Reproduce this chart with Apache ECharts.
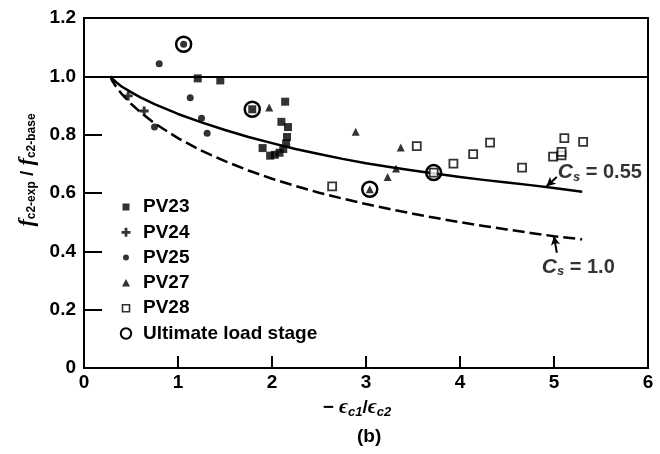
<!DOCTYPE html>
<html lang="en">
<head>
  <meta charset="UTF-8">
  <title>Softening coefficient</title>
  <style>
    * {
      padding: 0px;
      margin: 0px;
    }
    html,body {
      width: 100%;
      height: 100%;
      background-color: #fff;
    }
    #chart {
      width: 660px;
      height: 454px;
    }
  </style>
  <script src="https://cdn.jsdelivr.net/npm/echarts@6/dist/echarts.min.js"></script>
</head>
<body>
  <div id="chart"></div>

  <script>
    // tick labels
    var xTicks = ['0', '1', '2', '3', '4', '5', '6'];
    var yTicks = ['0', '0.2', '0.4', '0.6', '0.8', '1.0', '1.2'];

    // measured points  [-ec1/ec2, fc2exp/fc2base]
    var pv23 = [[1.21, 0.993], [1.45, 0.986], [2.14, 0.913], [2.10, 0.844], [2.17, 0.826],
                [2.16, 0.792], [2.15, 0.770], [2.12, 0.751], [2.08, 0.738], [2.03, 0.731],
                [1.98, 0.728], [1.90, 0.754], [1.79, 0.887]];
    var pv24 = [[0.47, 0.933], [0.64, 0.881]];
    var pv25 = [[0.80, 1.043], [0.75, 0.826], [1.13, 0.927], [1.25, 0.856], [1.31, 0.805], [1.06, 1.110]];
    var pv27 = [[1.97, 0.893], [2.89, 0.810], [3.37, 0.756], [3.32, 0.684], [3.23, 0.655], [3.04, 0.613]];
    var pv28 = [[2.64, 0.623], [3.54, 0.761], [3.72, 0.670], [3.93, 0.701], [4.14, 0.733], [4.32, 0.773],
                [4.66, 0.687], [4.99, 0.725], [5.08, 0.729], [5.08, 0.741], [5.11, 0.788], [5.31, 0.775]];
    var ultimate = [[1.06, 1.110], [1.79, 0.887], [3.04, 0.613], [3.72, 0.670]];

    // curves
    var curveX = [0.28, 0.30, 0.35, 0.40, 0.50, 0.60, 0.75, 1.00, 1.25, 1.50, 1.75, 2.00, 2.25,
                  2.50, 2.75, 3.00, 3.25, 3.50, 3.75, 4.00, 4.25, 4.50, 4.75, 5.00, 5.30];
    var cs055 = [1.000, 0.992, 0.978, 0.965, 0.946, 0.928, 0.905, 0.871, 0.842, 0.816, 0.792, 0.771, 0.751,
                 0.734, 0.717, 0.702, 0.689, 0.677, 0.666, 0.655, 0.645, 0.636, 0.627, 0.617, 0.604];
    var cs100 = [1.000, 0.985, 0.960, 0.940, 0.906, 0.877, 0.839, 0.788, 0.745, 0.709, 0.677, 0.649, 0.624,
                 0.601, 0.581, 0.562, 0.545, 0.529, 0.514, 0.500, 0.487, 0.475, 0.463, 0.452, 0.441];
    var refY = 1.0;

    // curve labels and their arrows
    var curveLabels = [[5.04, 0.670, '0.55'], [4.87, 0.345, '1.0']];
    var arrow055 = [[5.03, 0.655], [4.92, 0.623]];
    var arrow100 = [[5.03, 0.395], [5.00, 0.452]];

    var FONT = '"Liberation Sans", Arial, Helvetica, sans-serif';
    var PLUS = 'path://M3.4,0H6.6V3.4H10V6.6H6.6V10H3.4V6.6H0V3.4H3.4Z';

    function zip(xs, ys) {
      return xs.map(function(x, i) { return [x, ys[i]]; });
    }

    var chart = echarts.init(document.getElementById('chart'));

    var subRich = {
      f: { fontFamily: '"Liberation Serif", serif', fontStyle: 'italic', fontWeight: 'bold', fontSize: 22, lineHeight: 24, color: '#000' },
      sub: { fontFamily: FONT, fontWeight: 'bold', fontSize: 12, lineHeight: 14, padding: [9, 0, 0, 0], color: '#000' },
      t: { fontFamily: FONT, fontWeight: 'bold', fontSize: 19, lineHeight: 24, color: '#000' },
      e: { fontFamily: '"Liberation Serif", serif', fontStyle: 'italic', fontWeight: 'bold', fontSize: 21, lineHeight: 24, color: '#000' },
      isub: { fontFamily: FONT, fontStyle: 'italic', fontWeight: 'bold', fontSize: 13, lineHeight: 14, padding: [9, 0, 0, 0], color: '#000' },
      c: { fontFamily: FONT, fontStyle: 'italic', fontWeight: 'bold', fontSize: 21, lineHeight: 24, color: '#000' },
      v: { fontFamily: FONT, fontWeight: 'bold', fontSize: 20, lineHeight: 24, color: '#000' }
    };

    var blackPt = { color: '#000' };

    var option = {
      animation: false,
      backgroundColor: '#fff',
      title: {
        text: '(b)',
        left: 357,
        top: 427,
        padding: 0,
        textStyle: { fontFamily: FONT, fontWeight: 'bold', fontSize: 19, color: '#000' }
      },
      grid: {
        left: 84,
        right: 12,
        top: 18,
        bottom: 86,
        show: true,
        borderColor: '#000',
        borderWidth: 2
      },
      legend: {
        orient: 'vertical',
        left: 119,
        top: 197,
        padding: 0,
        itemWidth: 12,
        itemHeight: 12,
        itemGap: 5.3,
        selectedMode: false,
        textStyle: { fontFamily: FONT, fontWeight: 'bold', fontSize: 19, lineHeight: 20, color: '#000', padding: [0, 0, 0, 6] },
        data: [
          { name: 'PV23', icon: 'path://M0,0M12,12M2.5,2.5H9.5V9.5H2.5Z', itemStyle: { color: '#000', borderWidth: 0 } },
          { name: 'PV24', icon: 'path://M0,0M12,12M4.6,1.5H7.4V4.6H10.5V7.4H7.4V10.5H4.6V7.4H1.5V4.6H4.6Z', itemStyle: { color: '#000', borderWidth: 0 } },
          { name: 'PV25', icon: 'path://M0,0M12,12M6,3A3,3,0,1,1,5.99,3Z', itemStyle: { color: '#000', borderWidth: 0 } },
          { name: 'PV27', icon: 'path://M0,0M12,12M6,2L10,9.5H2Z', itemStyle: { color: '#000', borderWidth: 0 } },
          { name: 'PV28', icon: 'path://M0,0M12,12M2.5,2.5H9.5V9.5H2.5Z', itemStyle: { color: '#fff', borderColor: '#000', borderWidth: 1.6 } },
          { name: 'Ultimate load stage', icon: 'path://M0,0M12,12M6,0.8A5.2,5.2,0,1,1,5.99,0.8Z', itemStyle: { color: '#fff', borderColor: '#000', borderWidth: 2 } }
        ]
      },
      xAxis: {
        type: 'value',
        min: 0,
        max: 6,
        interval: 1,
        name: '{t|− }{e|ϵ}{isub|c1}{t|/}{e|ϵ}{isub|c2}',
        nameLocation: 'middle',
        nameGap: 28,
        nameTextStyle: { rich: subRich, padding: [0, 18, 0, 0] },
        axisLine: { show: true, lineStyle: { color: '#000', width: 2 } },
        axisTick: {
          show: true,
          inside: true,
          length: 12,
          lineStyle: { color: '#000', width: 2 },
          customValues: [1, 2, 3, 4, 5]
        },
        axisLabel: {
          margin: 5,
          fontFamily: FONT,
          fontWeight: 'bold',
          fontSize: 19,
          color: '#000',
          formatter: function(v) { return xTicks[Math.round(v)]; }
        },
        splitLine: { show: false }
      },
      yAxis: {
        type: 'value',
        min: 0,
        max: 1.2,
        interval: 0.2,
        name: '{f|f}{sub|c2-exp}{t| / }{f|f}{sub|c2-base}',
        nameLocation: 'middle',
        nameRotate: 90,
        nameGap: 42,
        nameTextStyle: { rich: subRich, padding: [0, 0, 0, 46] },
        axisLine: { show: true, lineStyle: { color: '#000', width: 2 } },
        axisTick: {
          show: true,
          inside: true,
          length: 18,
          lineStyle: { color: '#000', width: 2 },
          customValues: [0.2, 0.4, 0.6, 0.8]
        },
        axisLabel: {
          margin: 8,
          fontFamily: FONT,
          fontWeight: 'bold',
          fontSize: 19,
          color: '#000',
          formatter: function(v) { return yTicks[Math.round(v * 5)]; }
        },
        splitLine: { show: false }
      },
      series: [
        {
          name: 'Cs = 0.55',
          type: 'line',
          data: zip(curveX, cs055),
          smooth: false,
          showSymbol: false,
          symbol: 'none',
          lineStyle: { color: '#000', width: 2.5, join: 'round' },
          z: 2,
          markLine: {
            silent: true,
            symbol: 'none',
            label: { show: false },
            lineStyle: { color: '#000', width: 2, type: 'solid' },
            data: [{ yAxis: refY }]
          }
        },
        {
          name: 'Cs = 1.0',
          type: 'line',
          data: zip(curveX, cs100),
          smooth: false,
          showSymbol: false,
          symbol: 'none',
          lineStyle: { color: '#000', width: 2.5, type: [12, 5], join: 'round' },
          z: 2
        },
        {
          name: 'Ultimate load stage',
          type: 'scatter',
          data: ultimate,
          symbol: 'circle',
          symbolSize: 15,
          itemStyle: { color: 'rgba(0,0,0,0)', borderColor: '#000', borderWidth: 2.5, opacity: 1 },
          z: 3
        },
        { name: 'PV23', type: 'scatter', data: pv23, symbol: 'rect', symbolSize: 8, itemStyle: blackPt, z: 4 },
        { name: 'PV24', type: 'scatter', data: pv24, symbol: PLUS, symbolSize: 9, itemStyle: blackPt, z: 4 },
        { name: 'PV25', type: 'scatter', data: pv25, symbol: 'circle', symbolSize: 7, itemStyle: blackPt, z: 4 },
        { name: 'PV27', type: 'scatter', data: pv27, symbol: 'triangle', symbolSize: 8, itemStyle: blackPt, z: 4 },
        {
          name: 'PV28', type: 'scatter', data: pv28, symbol: 'rect', symbolSize: 8,
          itemStyle: { color: '#fff', borderColor: '#000', borderWidth: 1.8 }, z: 4
        },
        {
          name: 'curve labels',
          type: 'scatter',
          data: curveLabels,
          symbolSize: 0,
          silent: true,
          z: 5,
          label: {
            show: true,
            position: 'right',
            distance: 0,
            formatter: function(p) { return '{c|C}{isub|s}{v| = ' + p.data[2] + '}'; },
            rich: subRich
          },
          markLine: {
            silent: true,
            symbol: ['none', 'arrow'],
            symbolSize: [7, 9],
            label: { show: false },
            lineStyle: { color: '#000', width: 2, type: 'solid' },
            data: [
              [{ coord: arrow055[0] }, { coord: arrow055[1] }],
              [{ coord: arrow100[0] }, { coord: arrow100[1] }]
            ]
          }
        }
      ]
    };

    chart.setOption(option);
  </script>
</body>
</html>
